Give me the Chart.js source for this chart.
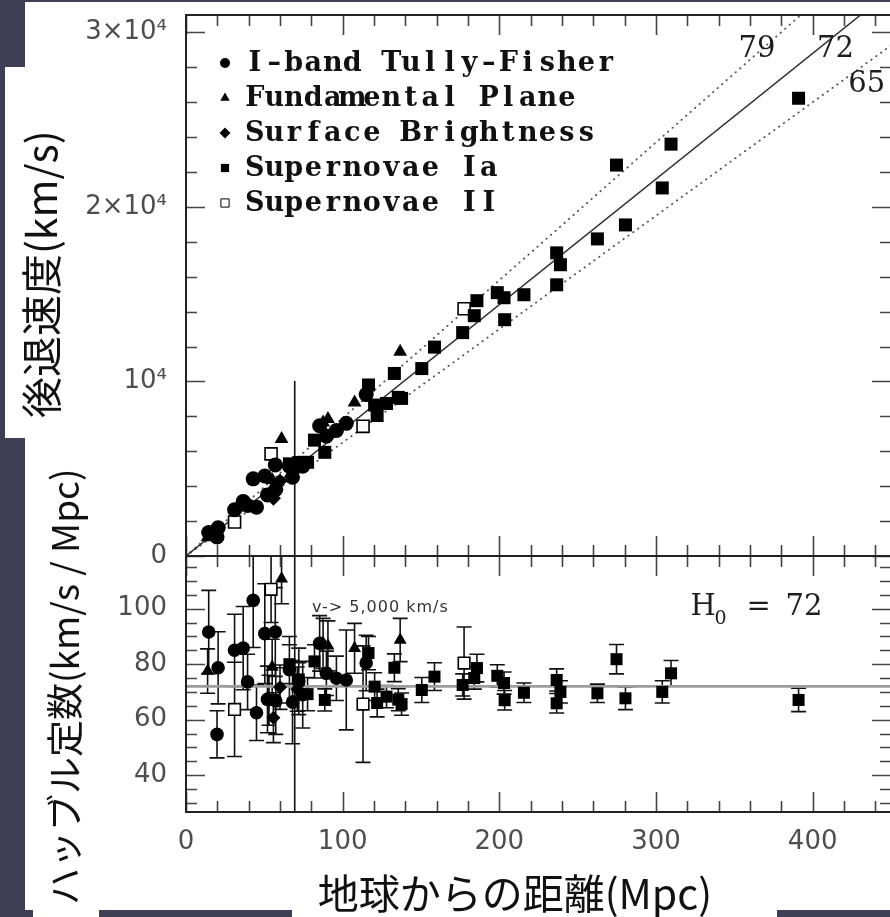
<!DOCTYPE html>
<html>
<head>
<meta charset="utf-8">
<script src="https://cdn.jsdelivr.net/npm/chart.js@4/dist/chart.umd.min.js"></script>
<style>
  html, body { margin: 0; padding: 0; }
  body { width: 890px; height: 917px; overflow: hidden; position: relative; background: #3e3f54; font-family: "Noto Sans CJK JP", sans-serif; }
  .sheet { position: absolute; left: 25px; top: 2px; width: 870px; height: 908px; background: #fff; }
  .box { position: absolute; background: #fff; }
  canvas { position: absolute; left: 0; }
  .title { position: absolute; height: 44px; line-height: 44px; white-space: nowrap; color: #111; }
  .vert { transform: rotate(-90deg); text-align: left; }
</style>
</head>
<body>
<div class="sheet"></div>
<div class="box" style="left:5px;top:67px;width:60px;height:371px"></div>
<div class="box" style="left:33px;top:880px;width:66px;height:37px"></div>
<div class="box" style="left:292px;top:870px;width:485px;height:47px"></div>

<canvas id="velocity-chart" width="892" height="580" style="top:0"></canvas>
<canvas id="hubble-chart" width="892" height="377" style="top:540px"></canvas>

<div class="title vert" style="font-size:41px;width:300px;left:-111px;top:246px">後退速度(km/s)</div>
<div class="title vert" style="font-size:37px;width:440px;left:-157px;top:663px">ハッブル定数(km/s / Mpc)</div>
<div class="title" style="font-size:41px;width:432px;left:280px;top:869px;text-align:right">地球からの距離(Mpc)</div>

<script>
// I-band Tully-Fisher
const tfDist = [14.5, 20.5, 19.8, 31, 36.5, 39.3, 45, 42.9, 50.3, 57, 52, 57.3, 66, 68, 72, 74.5, 85.3, 89.6, 96, 102.3, 115];
const tfVel = [1340, 1620, 1090, 2650, 3130, 2890, 2800, 4420, 4580, 5220, 3500, 3820, 5150, 4510, 5310, 5140, 7460, 6870, 7190, 7600, 9250];
const tfH0 = [91.6, 78.7, 54.7, 85, 85.8, 73.6, 62.5, 103, 91, 91.6, 67.3, 66.7, 78, 66.3, 73.8, 69, 87.5, 76.7, 74.9, 74.3, 80.4];
const tfErr = [15, 13, 8.5, 13, 15, 10, 10, 17, 18, 16, 12, 12, 12, 15, 12, 12, 10, 8, 8, 18, 10];

// Fundamental Plane
const fpDist = [13.8, 55, 61, 87.5, 90.6, 107.6, 136.7];
const fpVel = [1070, 4350, 6700, 7650, 7850, 8800, 11700];
const fpH0 = [77.5, 79, 110.8, 87.5, 86.6, 85.7, 88.7];
const fpErr = [8, 10, 9, 9, 9, 9, 7.8];

// Surface Brightness
const sbfDist = [53, 55.8, 60, 71];
const sbfVel = [3550, 3310, 4300, 5040];
const sbfH0 = [67, 60.7, 71.7, 71];
const sbfErr = [9, 9, 8, 8];

// Supernovae Ia
const snIaDist = [66, 72, 77.6, 82, 88.6, 116.5, 120.4, 122, 128, 133, 135.5, 137.6, 150.5, 158.6, 176.6, 184, 185.7, 198.7, 203, 203.4, 215.7, 236.6, 239, 236.6, 262.6, 274.8, 280.5, 304, 309.6, 391];
const snIaVel = [5280, 5360, 5370, 6640, 5940, 9800, 8650, 8050, 8740, 10460, 9090, 9030, 10740, 11970, 12800, 13770, 14630, 15090, 14800, 13540, 14970, 17370, 16690, 15540, 18170, 22400, 18970, 21090, 23600, 26230];
const snIaH0 = [80, 74.5, 69.2, 81, 67.1, 84, 71.9, 66, 68.3, 78.7, 67.2, 65.6, 70.7, 75.5, 72.5, 75, 78.6, 75.8, 73.2, 67, 69.7, 74.3, 70, 65.9, 69.5, 81.8, 67.7, 70, 76.7, 67.1];
const snIaErr = [7, 6, 6, 6, 4, 6, 5, 5, 4, 5, 4, 4, 4.5, 5, 4, 4, 5, 4, 4, 3.5, 3.5, 4, 4, 3.5, 3.3, 5.3, 4.1, 4, 4.6, 4.2];

// Supernovae II
const snIIDist = [31, 54.3, 113, 177.5];
const snIIVel = [1950, 5850, 7430, 14170];
const snIIH0 = [63.7, 107, 65.6, 80.4];
const snIIErr = [17, 12, 21, 13];

// H0 = 65 / 72 / 79 lines
const fitDist = [0, 450];
const fitVel79 = [0, 35550];
const fitVel72 = [0, 32400];
const fitVel65 = [0, 29250];
const refH0 = [72, 72];

// v = 5,000 km/s cut
const cutDist = [69.4, 69.4];
const cutVel = [0, 10000];
const cutH0 = [26.7, 119];

// axes
const distanceTicks = [0, 100, 200, 300, 400];
const distanceTickLabels = ['0', '100', '200', '300', '400'];
const velocityTicks = [0, 10000, 20000, 30000];
const velocityTickLabels = ['0', '10⁴', '2×10⁴', '3×10⁴'];
const hubbleTicks = [40, 60, 80, 100];
const hubbleTickLabels = ['40', '60', '80', '100'];

const pts = (xs, ys) => xs.map((x, i) => ({x, y: ys[i]}));

const series = [
  {label: 'I–band Tully–Fisher', dist: tfDist, vel: tfVel, h0: tfH0, err: tfErr, style: 'circle', open: false, rTop: 7.5, rLow: 6.8, rKey: 5},
  {label: 'Fundamental Plane', dist: fpDist, vel: fpVel, h0: fpH0, err: fpErr, style: 'triangle', open: false, rTop: 8, rLow: 7.5, rKey: 5.5},
  {label: 'Surface Brightness', dist: sbfDist, vel: sbfVel, h0: sbfH0, err: sbfErr, style: 'rectRot', open: false, rTop: 7.5, rLow: 7, rKey: 5.5},
  {label: 'Supernovae Ia', dist: snIaDist, vel: snIaVel, h0: snIaH0, err: snIaErr, style: 'rect', open: false, rTop: 9.2, rLow: 8.5, rKey: 5.8},
  {label: 'Supernovae II', dist: snIIDist, vel: snIIVel, h0: snIIH0, err: snIIErr, style: 'rect', open: true, rTop: 8.5, rLow: 8.2, rKey: 5.8}
];

const markerSet = (s, ys, r) => ({
  label: s.label,
  data: pts(s.dist, ys),
  pointStyle: s.style,
  pointRadius: r,
  pointBackgroundColor: s.open ? '#fff' : '#000',
  pointBorderColor: '#000',
  pointBorderWidth: s.open ? 1.6 : 0,
  order: 0
});

const lineSet = (xs, ys, color, width, dash) => ({
  data: pts(xs, ys),
  showLine: true,
  pointRadius: 0,
  borderColor: color,
  borderWidth: width,
  borderDash: dash || [],
  borderCapStyle: 'round',
  order: 5
});

// axes keep a fixed size and ask for no extra room around the plot
const fixSize = (w, h) => s => {
  if (w) s.width = w;
  if (h) s.height = h;
  s.paddingTop = s.paddingBottom = s.paddingLeft = s.paddingRight = 0;
};

// frame with inward ticks on all four sides
function frameTicks(id, yStep, yMajor) {
  return {
    id,
    afterDatasetsDraw(chart) {
      const {ctx, chartArea: a, scales: {x, y}} = chart;
      ctx.save();
      ctx.strokeStyle = '#454545';
      ctx.lineWidth = 1.6;
      ctx.beginPath();
      for (let v = 0; v <= x.max; v += 20) {
        const px = Math.round(x.getPixelForValue(v)) + 0.5;
        const len = v % 100 === 0 ? 20 : 11;
        ctx.moveTo(px, a.top); ctx.lineTo(px, a.top + len);
        ctx.moveTo(px, a.bottom); ctx.lineTo(px, a.bottom - len);
      }
      for (let v = Math.ceil(y.min / yStep) * yStep; v <= y.max; v += yStep) {
        const py = Math.round(y.getPixelForValue(v)) + 0.5;
        const len = v % yMajor === 0 ? 19 : 11;
        ctx.moveTo(a.left, py); ctx.lineTo(a.left + len, py);
        ctx.moveTo(a.right, py); ctx.lineTo(a.right - len, py);
      }
      ctx.stroke();
      ctx.strokeStyle = '#222';
      ctx.lineWidth = 2;
      ctx.strokeRect(a.left, a.top, a.right - a.left, a.bottom - a.top);
      ctx.restore();
    }
  };
}

// free text placed in data coordinates
function notes(id, items) {
  return {
    id,
    afterDatasetsDraw(chart) {
      const {ctx, scales: {x, y}} = chart;
      ctx.save();
      for (const n of items) {
        ctx.font = n.font;
        ctx.fillStyle = n.color || '#1e1e1e';
        ctx.textAlign = n.align || 'left';
        ctx.textBaseline = n.baseline || 'alphabetic';
        ctx.letterSpacing = n.spacing || '0px';
        ctx.fillText(n.text, x.getPixelForValue(n.x) + (n.dx || 0), y.getPixelForValue(n.y) + (n.dy || 0));
      }
      ctx.restore();
    }
  };
}

// legend in the upper-left corner, fixed-pitch serif text
const keyPlugin = {
  id: 'key',
  afterDatasetsDraw(chart) {
    const {ctx, chartArea: a} = chart;
    const cell = 19.5;
    ctx.save();
    series.forEach((s, i) => {
      const cy = a.top + 48 + i * 35;
      ctx.fillStyle = s.open ? '#fff' : '#000';
      ctx.strokeStyle = '#000';
      Chart.helpers.drawPoint(ctx, {pointStyle: s.style, radius: s.rKey, borderWidth: s.open ? 1.3 : 0, rotation: 0}, a.left + 39, cy);
      ctx.fillStyle = '#111';
      ctx.font = 'bold 27px "DejaVu Serif"';
      ctx.textAlign = 'center';
      ctx.textBaseline = 'middle';
      [...s.label].forEach((ch, k) => ctx.fillText(ch, a.left + 59 + k * cell + cell / 2, cy + 1));
    });
    ctx.restore();
  }
};

// vertical error bars with caps
const errorBarPlugin = {
  id: 'errorBars',
  beforeDatasetsDraw(chart) {
    const {ctx, chartArea: a, scales: {x, y}} = chart;
    ctx.save();
    ctx.beginPath();
    ctx.rect(a.left, a.top, a.right - a.left, a.bottom - a.top);
    ctx.clip();
    ctx.strokeStyle = '#111';
    ctx.lineWidth = 1.6;
    ctx.beginPath();
    chart.data.datasets.forEach(ds => {
      if (!ds.errorBars) return;
      ds.data.forEach((p, i) => {
        const e = ds.errorBars[i];
        const px = x.getPixelForValue(p.x);
        const hi = y.getPixelForValue(p.y + e);
        const lo = y.getPixelForValue(p.y - e);
        ctx.moveTo(px, hi); ctx.lineTo(px, lo);
        ctx.moveTo(px - 7.5, hi); ctx.lineTo(px + 7.5, hi);
        ctx.moveTo(px - 7.5, lo); ctx.lineTo(px + 7.5, lo);
      });
    });
    ctx.stroke();
    ctx.restore();
  }
};

const tickFont = {family: 'DejaVu Sans', size: 26, lineHeight: 1};
const tickColor = '#4e4e4e';

// upper panel: velocity vs distance
new Chart(document.getElementById('velocity-chart'), {
  type: 'scatter',
  data: {
    datasets: [
      ...series.map(s => markerSet(s, s.vel, s.rTop)),
      lineSet(fitDist, fitVel72, '#333', 1.5),
      lineSet(fitDist, fitVel79, '#555', 1.8, [0.5, 5.5]),
      lineSet(fitDist, fitVel65, '#555', 1.8, [0.5, 5.5]),
      lineSet(cutDist, cutVel, '#111', 1.6)
    ]
  },
  options: {
    responsive: false,
    animation: false,
    events: [],
    layout: {autoPadding: false, padding: {top: 15, right: 1, bottom: 24, left: 0}},
    plugins: {legend: {display: false}, tooltip: {enabled: false}},
    scales: {
      x: {type: 'linear', min: 0, max: 450, display: false, afterFit: fixSize(0, 0)},
      y: {
        type: 'linear', min: 0, max: 31000,
        afterBuildTicks: s => { s.ticks = velocityTicks.map(value => ({value})); },
        afterFit: fixSize(186, 0),
        grid: {display: false, drawTicks: false},
        border: {display: false},
        ticks: {padding: 19, color: tickColor, font: tickFont, autoSkip: false,
          callback: (v, i) => velocityTickLabels[i]}
      }
    }
  },
  plugins: [
    frameTicks('velocityFrame', 2000, 10000),
    keyPlugin,
    notes('lineLabels', [
      {text: '79', x: 364.5, y: 29000, font: '29px "DejaVu Serif"', align: 'center', baseline: 'middle'},
      {text: '72', x: 414.5, y: 29000, font: '29px "DejaVu Serif"', align: 'center', baseline: 'middle'},
      {text: '65', x: 434.5, y: 27000, font: '29px "DejaVu Serif"', align: 'center', baseline: 'middle'}
    ])
  ]
});

// lower panel: H0 = v / d vs distance
new Chart(document.getElementById('hubble-chart'), {
  type: 'scatter',
  data: {
    datasets: [
      ...series.map(s => Object.assign(markerSet(s, s.h0, s.rLow), {errorBars: s.err})),
      lineSet(fitDist, refH0, '#9c9c9c', 2.6),
      lineSet(cutDist, cutH0, '#111', 1.6)
    ]
  },
  options: {
    responsive: false,
    animation: false,
    events: [],
    layout: {autoPadding: false, padding: {top: 16, right: 1, bottom: 0, left: 0}},
    plugins: {legend: {display: false}, tooltip: {enabled: false}},
    scales: {
      x: {
        type: 'linear', min: 0, max: 450, position: 'bottom',
        afterBuildTicks: s => { s.ticks = distanceTicks.map(value => ({value})); },
        afterFit: fixSize(0, 105),
        grid: {display: false, drawTicks: false},
        border: {display: false},
        ticks: {padding: 17, color: tickColor, font: tickFont, autoSkip: false, maxRotation: 0,
          callback: (v, i) => distanceTickLabels[i]}
      },
      y: {
        type: 'linear', min: 26.7, max: 119,
        afterBuildTicks: s => { s.ticks = hubbleTicks.map(value => ({value})); },
        afterFit: fixSize(186, 0),
        grid: {display: false, drawTicks: false},
        border: {display: false},
        ticks: {padding: 19, color: tickColor, font: tickFont, autoSkip: false,
          callback: (v, i) => hubbleTickLabels[i]}
      }
    }
  },
  plugins: [
    errorBarPlugin,
    frameTicks('hubbleFrame', 5, 20),
    notes('hubbleLabels', [
      {text: 'v-> 5,000 km/s', x: 80.4, y: 100.3, font: '16px "DejaVu Sans"', baseline: 'middle', spacing: '1px', color: '#333'},
      {text: 'H', x: 322, y: 97.7, font: '29px "DejaVu Serif"'},
      {text: '0', x: 322, y: 97.7, dx: 24, dy: 9, font: '19px "DejaVu Serif"'},
      {text: '=', x: 322, y: 97.7, dx: 56, font: '29px "DejaVu Serif"'},
      {text: '72', x: 322, y: 97.7, dx: 95, font: '29px "DejaVu Serif"'}
    ])
  ]
});
</script>
</body>
</html>
